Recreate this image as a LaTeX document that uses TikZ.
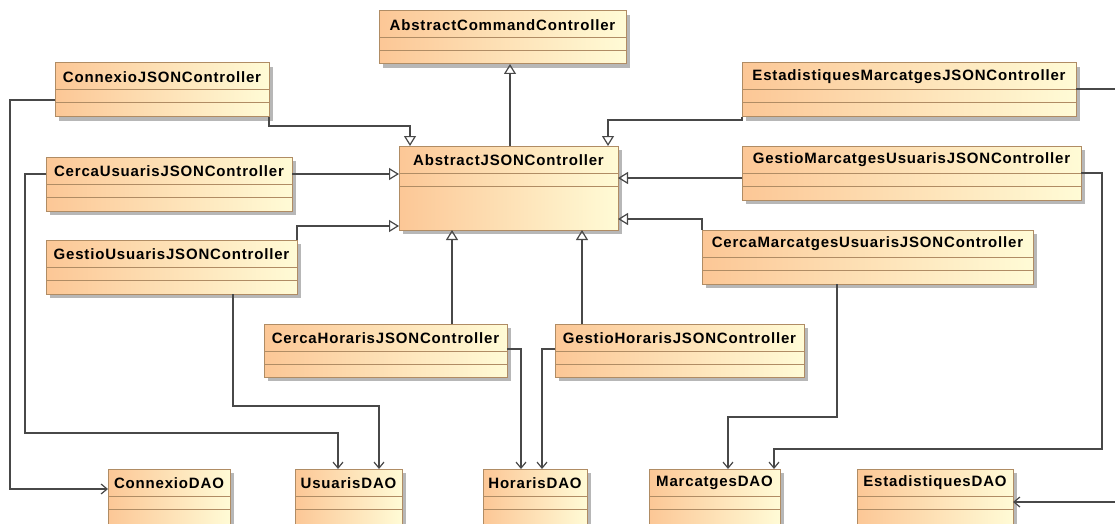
\documentclass[tikz,border=0pt]{standalone}
\usepackage{fontspec}
\newfontfamily\clsfont{Liberation Sans}[LetterSpace=5.5]
\usetikzlibrary{arrows.meta,shadows}

\definecolor{clsorange}{RGB}{252,199,150}
\definecolor{clsyellow}{RGB}{255,251,214}
\definecolor{clsborder}{RGB}{176,140,100}
\definecolor{linkgray}{RGB}{72,72,72}

\tikzset{
  clsbox/.style={rectangle, draw=clsborder, line width=1pt,
    left color=clsorange, right color=clsyellow,
    inner sep=0pt, outer sep=0pt, anchor=north west,
    drop shadow={shadow xshift=4pt, shadow yshift=-4pt, opacity=.4, fill=black!70}},
  divline/.style={draw=clsborder, line width=1pt},
  clstitle/.style={inner sep=0pt, font=\clsfont\bfseries\fontsize{15}{18}\selectfont, text=black},
  genlink/.style={draw=linkgray, line width=1.2pt,
    -{Triangle[open, length=10pt, width=12pt]}},
  deplink/.style={draw=linkgray, line width=1.2pt,
    -{Straight Barb[length=6pt, width=10pt]}}
}

% class box: name, left, top, right, bottom, title
\newcommand\umlclass[6]{%
  \node[clsbox, minimum width={#4-#2}, minimum height={#5-#3}] (#1) at (#2,#3) {};
  \draw[divline] ([yshift=-27pt]#1.north west) -- ([yshift=-27pt]#1.north east);
  \draw[divline] ([yshift=-40pt]#1.north west) -- ([yshift=-40pt]#1.north east);
  \node[clstitle] (#1-title) at ([yshift=-14pt]#1.north) {#6};
}

\begin{document}
\begin{tikzpicture}[x=1pt, y=-1pt]
\useasboundingbox (0,0) rectangle (1115,524);
\clip (0,0) rectangle (1115,524);

% classes
\umlclass{acc}{379}{11}{626}{64}{AbstractCommandController}
\umlclass{cjc}{55}{63}{269}{117}{ConnexioJSONController}
\umlclass{emj}{742}{63}{1076}{117}{EstadistiquesMarcatgesJSONController}
\umlclass{ajc}{399}{146}{618}{230}{AbstractJSONController}
\umlclass{cuj}{46}{157}{292}{211}{CercaUsuarisJSONController}
\umlclass{gmj}{742}{146}{1081}{200}{GestioMarcatgesUsuarisJSONController}
\umlclass{guj}{46}{240}{297}{294}{GestioUsuarisJSONController}
\umlclass{cmj}{702}{230}{1033}{284}{CercaMarcatgesUsuarisJSONController}
\umlclass{chj}{264}{324}{507}{377}{CercaHorarisJSONController}
\umlclass{ghj}{555}{324}{804}{377}{GestioHorarisJSONController}
\umlclass{cdao}{108}{469}{230}{530}{ConnexioDAO}
\umlclass{udao}{295}{469}{402}{530}{UsuarisDAO}
\umlclass{hdao}{483}{469}{587}{530}{HorarisDAO}
\umlclass{mdao}{649}{469}{780}{530}{MarcatgesDAO}
\umlclass{edao}{857}{469}{1013}{530}{EstadistiquesDAO}

% generalizations
\draw[genlink] (510,0 |- ajc.north) -- (510,0 |- acc.south);
\draw[genlink] (cjc.south east) -- (269,126) -| (410,0 |- ajc.north);
\draw[genlink] (emj.south west) -- (742,120) -| (608,0 |- ajc.north);
\draw[genlink] (cuj.east |- 0,174) -- (ajc.west |- 0,174);
\draw[genlink] (guj.north east) -- (297,226) -- (ajc.west |- 0,226);
\draw[genlink] (gmj.west |- 0,178) -- (ajc.east |- 0,178);
\draw[genlink] (cmj.north west) -- (702,219) -- (ajc.east |- 0,219);
\draw[genlink] (452,0 |- chj.north) -- (452,0 |- ajc.south);
\draw[genlink] (582,0 |- ghj.north) -- (582,0 |- ajc.south);

% dependencies
\draw[deplink] (cjc.west |- 0,100) -- (10,100) -- (10,489) -- (cdao.west |- 0,489);
\draw[deplink] (cuj.west |- 0,174) -- (25,174) -- (25,433) -- (338,433) -- (338,0 |- udao.north);
\draw[deplink] (233,0 |- guj.south) -- (233,406) -- (379,406) -- (379,0 |- udao.north);
\draw[deplink] (chj.east |- 0,349) -- (521,349) -- (521,0 |- hdao.north);
\draw[deplink] (ghj.west |- 0,349) -- (542,349) -- (542,0 |- hdao.north);
\draw[deplink] (837,0 |- cmj.south) -- (837,417) -- (728,417) -- (728,0 |- mdao.north);
\draw[deplink] (gmj.east |- 0,173) -- (1102,173) -- (1102,449) -- (774,449) -- (774,0 |- mdao.north);
\draw[deplink] (emj.east |- 0,89) -- (1125,89) -- (1125,502) -- (edao.east |- 0,502);
\end{tikzpicture}
\end{document}
